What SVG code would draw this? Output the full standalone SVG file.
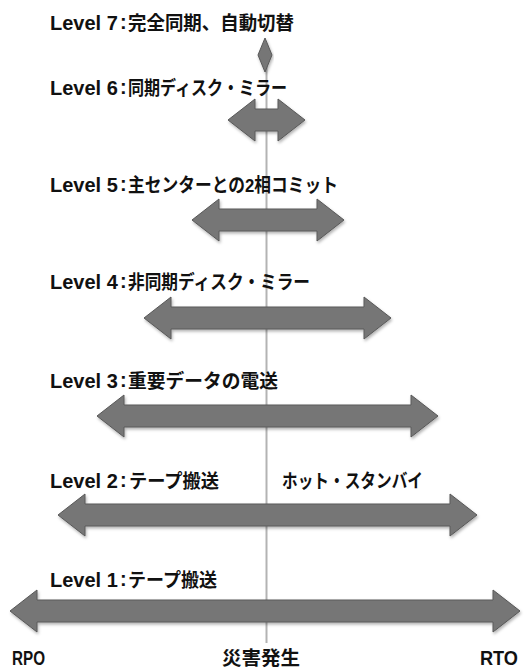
<svg xmlns="http://www.w3.org/2000/svg" width="528" height="668" viewBox="0 0 528 668">
<style>
.lbl{font-family:"Liberation Sans","Noto Sans CJK JP",sans-serif;font-weight:bold;font-size:19px;fill:#111}
.lat{font-size:20px}
.arr{fill:#767676;stroke:#585858;stroke-width:1;filter:url(#sh)}
.axis{stroke:#b3b3b3;stroke-width:2;fill:none}
</style>
<defs>
<filter id="sh" x="-10%" y="-30%" width="120%" height="170%">
<feDropShadow dx="1" dy="2" stdDeviation="1.5" flood-color="#000" flood-opacity="0.3"/>
</filter>
</defs>
<rect width="528" height="668" fill="#fff"/>
<g id="connectors">
<line class="axis" x1="266.5" y1="55" x2="266.5" y2="643"/>
</g>
<g id="level7">
<path class="arr" d="M265,38 L272,55 L265,72 L258,55 Z"/>
<text class="lbl lat" x="50" y="30">Level 7</text>
<text class="lbl lat" x="120" y="29">:</text>
<text class="lbl" x="128" y="30" textLength="166" lengthAdjust="spacingAndGlyphs">完全同期、自動切替</text>
</g>
<g id="level6">
<polygon class="arr" points="228,120 255,99 255,109 278,109 278,99 305,120 278,141 278,131 255,131 255,141"/>
<text class="lbl lat" x="50" y="95">Level 6</text>
<text class="lbl lat" x="120" y="94">:</text>
<text class="lbl" x="128" y="95" textLength="159" lengthAdjust="spacingAndGlyphs">同期ディスク・ミラー</text>
</g>
<g id="level5">
<polygon class="arr" points="192,220 219,199 219,209 317,209 317,199 344,220 317,241 317,231 219,231 219,241"/>
<text class="lbl lat" x="50" y="192">Level 5</text>
<text class="lbl lat" x="120" y="191">:</text>
<text class="lbl" x="128" y="192" textLength="210" lengthAdjust="spacingAndGlyphs">主センターとの2相コミット</text>
</g>
<g id="level4">
<polygon class="arr" points="144,318 171,297 171,307 364,307 364,297 391,318 364,339 364,329 171,329 171,339"/>
<text class="lbl lat" x="50" y="289">Level 4</text>
<text class="lbl lat" x="120" y="288">:</text>
<text class="lbl" x="128" y="289" textLength="182" lengthAdjust="spacingAndGlyphs">非同期ディスク・ミラー</text>
</g>
<g id="level3">
<polygon class="arr" points="97,416 124,395 124,405 411,405 411,395 438,416 411,437 411,427 124,427 124,437"/>
<text class="lbl lat" x="50" y="388">Level 3</text>
<text class="lbl lat" x="120" y="387">:</text>
<text class="lbl" x="128" y="388" textLength="150" lengthAdjust="spacingAndGlyphs">重要データの電送</text>
</g>
<g id="level2">
<polygon class="arr" points="58,515 85,494 85,504 450,504 450,494 477,515 450,536 450,526 85,526 85,536"/>
<text class="lbl lat" x="50" y="488">Level 2</text>
<text class="lbl lat" x="120" y="487">:</text>
<text class="lbl" x="129" y="488" textLength="90" lengthAdjust="spacingAndGlyphs">テープ搬送</text>
<text class="lbl" x="282" y="488" textLength="141" lengthAdjust="spacingAndGlyphs">ホット・スタンバイ</text>
</g>
<g id="level1">
<polygon class="arr" points="10,611 37,590 37,600 493,600 493,590 520,611 493,632 493,622 37,622 37,632"/>
<text class="lbl lat" x="50" y="587">Level 1</text>
<text class="lbl lat" x="120" y="586">:</text>
<text class="lbl" x="128" y="587" textLength="89" lengthAdjust="spacingAndGlyphs">テープ搬送</text>
</g>
<g id="axis-labels">
<text class="lbl lat" x="12" y="665" textLength="33" lengthAdjust="spacingAndGlyphs">RPO</text>
<text class="lbl" x="222" y="665" textLength="78" lengthAdjust="spacingAndGlyphs">災害発生</text>
<text class="lbl lat" x="480" y="665" textLength="38" lengthAdjust="spacingAndGlyphs">RTO</text>
</g>
</svg>
